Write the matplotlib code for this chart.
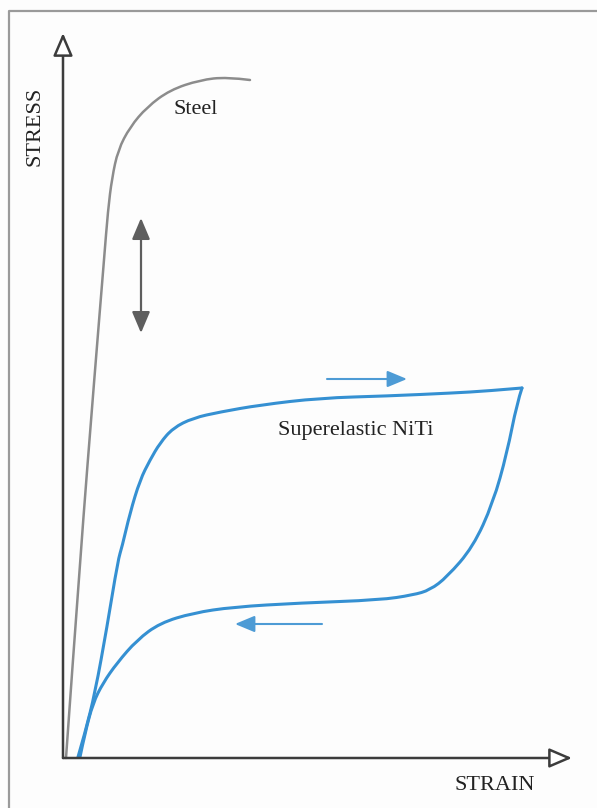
import matplotlib
matplotlib.use("Agg")
import matplotlib.pyplot as plt
from matplotlib.path import Path
from matplotlib.patches import PathPatch

### schematic stress-strain curves, units are arbitrary (strain, stress)
steel_strain = [3, 17, 32, 41, 45, 49, 55, 67, 84, 107, 137, 164, 187]
steel_stress = [0, 198, 388, 498, 548, 580, 608, 631, 651, 668, 678, 681, 678]

### superelastic NiTi loop: loading then unloading
niti_load_strain = [15, 22, 32, 44, 55, 59, 67, 77, 87, 97, 110, 130, 157, 197, 257, 324, 390, 424, 459]
niti_load_stress = [1, 25, 65, 131, 198, 211, 245, 278, 298, 315, 330, 340, 346, 353, 360, 362, 365, 367, 370]
niti_unload_strain = [459, 454, 444, 430, 410, 384, 367, 350, 317, 237, 170, 130, 97, 74, 54, 40, 30, 22, 17]
niti_unload_stress = [370, 355, 305, 255, 211, 181, 168, 163, 158, 155, 151, 145, 135, 118, 95, 75, 55, 25, 1]

### direction arrows (tail, tip)
load_arrow = [(264, 379), (344, 379)]
unload_arrow = [(259, 134), (172, 134)]
stress_arrow = [(78, 425), (78, 540)]

x_axis_end = 509
y_axis_end = 725

blue = "#3590d2"
arrow_blue = "#4d9bd5"
font = "Liberation Serif"


def smooth_curve(xs, ys, **kw):
    # quadratic bezier through the midpoints, inner points act as control points
    pts = list(zip(xs, ys))
    verts = [pts[0]]
    codes = [Path.MOVETO]
    for i in range(1, len(pts) - 1):
        verts.append(pts[i])
        codes.append(Path.CURVE3)
        if i < len(pts) - 2:
            verts.append(((pts[i][0] + pts[i + 1][0]) / 2, (pts[i][1] + pts[i + 1][1]) / 2))
        else:
            verts.append(pts[-1])
        codes.append(Path.CURVE3)
    return PathPatch(Path(verts, codes), fill=False, capstyle="round", joinstyle="round", **kw)


fig = plt.figure(figsize=(5.97, 8.08), dpi=100)
fig.patch.set_facecolor("#fdfdfd")
ax = fig.add_axes([0, 0, 1, 1])
ax.set_xlim(-63, 534)
ax.set_ylim(-50, 758)
ax.axis("off")

### outer frame (left and top edges only)
ax.plot([-54, -54, 540], [-60, 747, 747], color="#9a9a9a", lw=1.6, solid_capstyle="butt")

### axes with open arrowheads
axis_style = dict(arrowstyle="-|>,head_length=14,head_width=6", mutation_scale=1,
                  fc="white", ec="#3c3c3c", lw=1.8, shrinkA=0, shrinkB=0)
ax.annotate("", xy=(x_axis_end, 0), xytext=(0, 0), arrowprops=axis_style)
ax.annotate("", xy=(0, y_axis_end), xytext=(0, 0), arrowprops=axis_style)

### curves
ax.add_patch(smooth_curve(steel_strain, steel_stress, edgecolor="#8c8c8c", lw=1.8))
ax.add_patch(smooth_curve(niti_load_strain, niti_load_stress, edgecolor=blue, lw=2.2))
ax.add_patch(smooth_curve(niti_unload_strain, niti_unload_stress, edgecolor=blue, lw=2.2))

### arrows
blue_style = dict(arrowstyle="-|>,head_length=12,head_width=5", mutation_scale=1,
                  fc=arrow_blue, ec=arrow_blue, lw=1.5, shrinkA=0, shrinkB=0)
ax.annotate("", xy=load_arrow[1], xytext=load_arrow[0], arrowprops=blue_style)
ax.annotate("", xy=unload_arrow[1], xytext=unload_arrow[0], arrowprops=blue_style)
ax.annotate("", xy=stress_arrow[1], xytext=stress_arrow[0],
            arrowprops=dict(arrowstyle="<|-|>,head_length=13,head_width=5.5", mutation_scale=1,
                            fc="#5e5e5e", ec="#5e5e5e", lw=1.6, shrinkA=0, shrinkB=0))

### labels
ax.text(-28, 632, "STRESS", rotation=90, ha="center", va="center", fontsize=16,
        family=font, color="#222222")
ax.text(432, -27, "STRAIN", ha="center", va="center", fontsize=16, family=font, color="#222222")
ax.text(133, 648, "Steel", ha="center", va="center", fontsize=16, family=font, color="#222222")
ax.text(293, 328, "Superelastic NiTi", ha="center", va="center", fontsize=16,
        family=font, color="#222222")

plt.savefig("out.png", dpi=100, facecolor=fig.get_facecolor())
